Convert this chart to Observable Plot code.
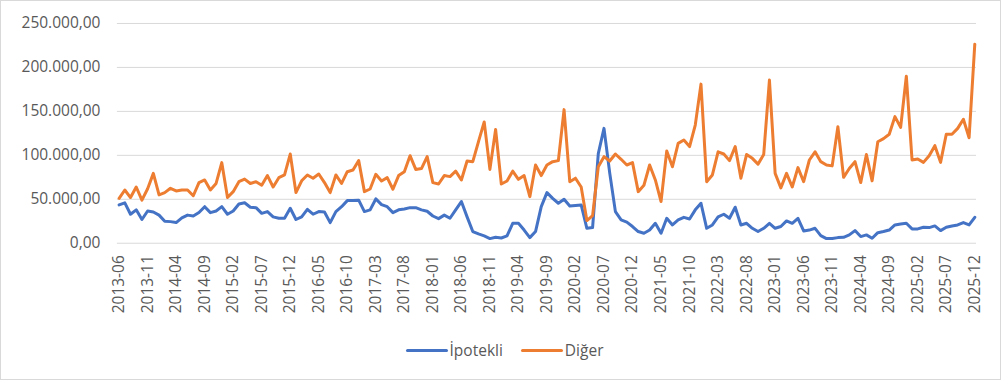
<!DOCTYPE html>
<html>
<head>
<meta charset="utf-8">
<script src="https://cdn.jsdelivr.net/npm/d3@7"></script>
<script src="https://cdn.jsdelivr.net/npm/@observablehq/plot@0.6"></script>
<style>
  html, body { margin: 0; padding: 0; background: #fff; }
  #frame { position: relative; width: 1001px; height: 380px; box-sizing: border-box; border: 1px solid #d9d9d9; overflow: hidden; font-family: "Open Sans", sans-serif; }
  #chart { position: absolute; left: -1px; top: -1px; }
  #legend { position: absolute; left: 0; top: 338px; width: 1001px; display: flex; justify-content: center; gap: 18px; font-size: 15.5px; color: #595959; padding-left: 6px; box-sizing: border-box; }
  .item { display: flex; align-items: center; gap: 2px; }
  .sw { width: 42px; height: 3px; border-radius: 1.5px; }
</style>
</head>
<body>
<div id="frame">
  <div id="chart"></div>
  <div id="legend"></div>
</div>
<script>
// Series names and colours
const seriesNames = ["İpotekli", "Diğer"];
const seriesColors = ["#4472C4", "#ED7D31"];

// Monthly categories 2013-06 .. 2025-12
const startMonth = new Date(Date.UTC(2013, 5, 1));
const endMonth = new Date(Date.UTC(2026, 0, 1));
const months = d3.utcMonth.range(startMonth, endMonth).map(d3.utcFormat("%Y-%m"));

// Values in thousands
const ipotekli = [
  43.6, 46, 33, 38, 27, 36.7, 35.6, 32, 25, 24.6,
  23.5, 28.8, 32, 31, 35, 41.6, 34.8, 36.7, 41.6, 33,
  36.7, 44.7, 46, 41, 40.5, 34, 36, 30, 28.4, 28.4,
  39.8, 27, 30, 38.6, 33, 36, 35.6, 23.5, 36, 41.6,
  48.5, 48.5, 49, 36, 38, 50.4, 44, 41.6, 34.8, 38,
  39, 40.5, 40.5, 38, 36.4, 31, 28, 32, 28.4, 38,
  47.4, 30, 13.3, 10.6, 8.3, 5.3, 6.8, 6, 8.3, 22.7,
  22.7, 15, 6.4, 13.3, 41.6, 57.6, 51, 45.5, 50, 42.4,
  43, 43.6, 17, 17.8, 102, 130.7, 80, 36, 26.5, 24,
  19, 13.3, 11.4, 15, 22.7, 11.4, 28.4, 20.8, 26.5, 29.5,
  27.6, 38, 45.5, 17, 20.8, 30, 33, 28.4, 41, 20.8,
  22.7, 17, 13.3, 17, 22.7, 17, 19, 25.4, 22.7, 28.4,
  14, 15, 17, 8.7, 5.3, 5.3, 6.4, 6.8, 9.5, 14.4,
  7.6, 9.5, 5.7, 12, 13.3, 15, 20.8, 22, 22.7, 16.3,
  16.3, 18.2, 17.8, 19.7, 14.4, 18.2, 19.7, 20.8, 23.5, 20.8,
  29.5
];
const diger = [
  51.1, 60.6, 52, 64, 49, 62, 79.5, 55, 57.6, 62.5,
  59.5, 60.6, 60.6, 54, 69, 72, 60.6, 68, 91.7, 52,
  58.7, 70, 73, 68, 70, 66, 77, 64, 74.6, 77.7,
  101.5, 57.6, 71, 77.7, 74, 78.8, 69, 57.6, 77.7, 68,
  81.4, 83.3, 94, 58.7, 61.7, 78.4, 70.8, 74.6, 61.4, 77,
  81.4, 99.6, 84, 85, 98.5, 69, 67.4, 77, 75.8, 82,
  72, 93.5, 92.8, 115.5, 138, 84, 129.5, 67.4, 70.8, 82,
  72.7, 77, 53, 89, 77, 89, 92.8, 94, 152, 70,
  74, 64, 25.8, 31.4, 87, 98.5, 93.5, 101.5, 95.5, 89,
  91.7, 58.7, 66, 89, 72, 47.4, 105, 87, 113.6, 117.4,
  110, 134.5, 181, 70, 77.7, 104, 101.5, 94, 110, 74,
  101, 96.6, 90, 101, 185.6, 79.5, 63, 79.5, 64, 86,
  70, 94.7, 104, 92.8, 89, 88, 132.6, 75, 85, 92.8,
  69, 101, 71, 115.5, 119, 124, 144, 131.8, 190, 94.7,
  95.8, 92, 99.6, 111, 92, 124, 124, 130.7, 141, 120,
  226.5
];

// Axis ticks
const yTicks = [0, 50000, 100000, 150000, 200000, 250000];
const xTickLabels = months.filter((d, i) => i % 5 === 0);

const fmt = d3.formatLocale({decimal: ",", thousands: ".", grouping: [3], currency: ["", ""]}).format(",.2f");

const data = [];
[ipotekli, diger].forEach((arr, s) => {
  arr.forEach((v, i) => data.push({month: months[i], value: v * 1000, series: seriesNames[s]}));
});

const chart = Plot.plot({
  width: 1001,
  height: 330,
  marginLeft: 117,
  marginRight: 24,
  marginTop: 23,
  marginBottom: 87,
  style: {fontFamily: "Open Sans", fontSize: "15.5px", color: "#595959", background: "transparent", overflow: "visible"},
  x: {type: "point", domain: months, padding: 0.3, label: null},
  y: {domain: [0, 250000], label: null},
  color: {domain: seriesNames, range: seriesColors},
  marks: [
    Plot.gridY(yTicks, {stroke: "#d9d9d9", strokeOpacity: 1, strokeWidth: 1}),
    Plot.axisY(yTicks, {tickSize: 0, tickPadding: 17, tickFormat: fmt, fill: "#595959", label: null}),
    Plot.axisX(xTickLabels, {tickSize: 0, tickRotate: -90, tickPadding: 12, fill: "#595959", label: null}),
    Plot.lineY(data, {x: "month", y: "value", z: "series", stroke: "series", strokeWidth: 3, strokeLinejoin: "round", strokeLinecap: "round"})
  ]
});
document.getElementById("chart").appendChild(chart);

const legend = document.getElementById("legend");
seriesNames.forEach((n, i) => {
  const it = document.createElement("div");
  it.className = "item";
  const sw = document.createElement("span");
  sw.className = "sw";
  sw.style.background = seriesColors[i];
  const tx = document.createElement("span");
  tx.textContent = n;
  it.appendChild(sw);
  it.appendChild(tx);
  legend.appendChild(it);
});
</script>
</body>
</html>
